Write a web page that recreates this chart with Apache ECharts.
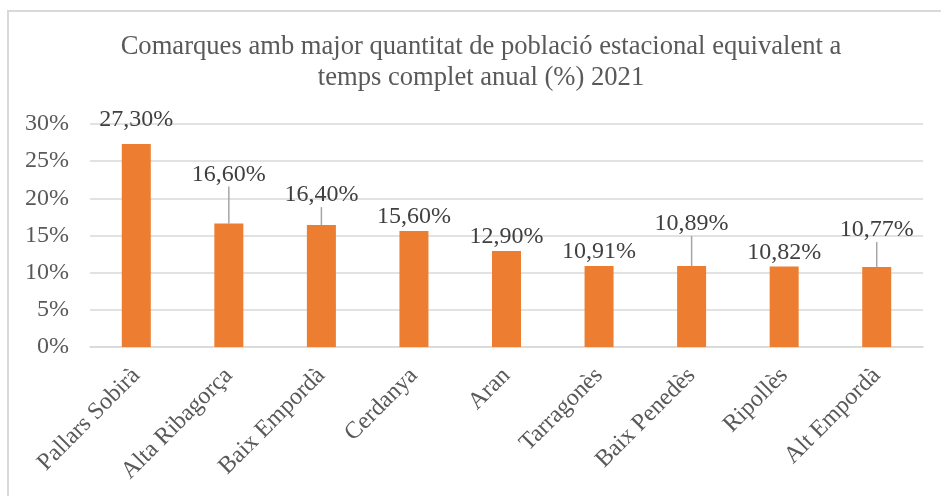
<!DOCTYPE html>
<html>
<head>
<meta charset="utf-8">
<script src="https://cdn.jsdelivr.net/npm/echarts@6/dist/echarts.min.js"></script>
<style>
  html, body { margin: 0; padding: 0; background: #fff; }
  #frame { position: absolute; left: 7px; top: 10px; width: 960px; height: 520px;
           border-left: 2px solid #d9d9d9; border-top: 2px solid #d9d9d9; box-sizing: border-box; }
  #chart { position: absolute; left: 0; top: 0; width: 941px; height: 496px; }
</style>
</head>
<body>
<div id="frame"></div>
<div id="chart"></div>
<script>
const titleText = 'Comarques amb major quantitat de població estacional equivalent a\ntemps complet anual (%) 2021';
const categories = ['Pallars Sobirà', 'Alta Ribagorça', 'Baix Empordà', 'Cerdanya', 'Aran', 'Tarragonès', 'Baix Penedès', 'Ripollès', 'Alt Empordà'];
const values = [27.30, 16.60, 16.40, 15.60, 12.90, 10.91, 10.89, 10.82, 10.77];
const yTicks = [0, 5, 10, 15, 20, 25, 30];

const FONT = '"Liberation Serif", "Times New Roman", serif';
// label vertical shifts and leader lines (styling only)
const labelShift = {0: -10, 1: -35, 2: -16, 6: -28, 8: -23};
const withLeader = {1: true, 2: true, 6: true, 8: true};

const chart = echarts.init(document.getElementById('chart'), null, {renderer: 'canvas'});
chart.setOption({
  backgroundColor: 'transparent',
  animation: false,
  title: {
    text: titleText,
    left: 476,
    textAlign: 'center',
    top: 27,
    textStyle: { fontFamily: FONT, fontSize: 26.6, fontWeight: 'normal', color: '#595959', lineHeight: 31 }
  },
  grid: { left: 90, right: 18, top: 124, bottom: 149, containLabel: false },
  xAxis: {
    type: 'category',
    data: categories,
    axisLine: { show: true, lineStyle: { color: '#d9d9d9', width: 1.5 } },
    axisTick: { show: false },
    axisLabel: { rotate: 45, margin: 25, interval: 0, fontFamily: FONT, fontSize: 24, color: '#595959' }
  },
  yAxis: {
    type: 'value',
    min: yTicks[0],
    max: yTicks[yTicks.length - 1],
    interval: yTicks[1] - yTicks[0],
    axisLine: { show: false },
    axisTick: { show: false },
    splitLine: { lineStyle: { color: '#d9d9d9', width: 1.5 } },
    axisLabel: { margin: 21, padding: [6, 0, 0, 0], fontFamily: FONT, fontSize: 24, color: '#595959', formatter: v => v + '%' }
  },
  series: [{
    type: 'bar',
    data: values.map((v, i) => ({ value: v, labelLine: { show: !!withLeader[i] } })),
    barWidth: 29,
    itemStyle: { color: '#ed7d31' },
    label: {
      show: true,
      position: 'top',
      distance: 2,
      fontFamily: FONT,
      fontSize: 24,
      color: '#404040',
      formatter: p => p.value.toFixed(2).replace('.', ',') + '%'
    },
    labelLine: { show: true, lineStyle: { color: '#a6a6a6', width: 1.5 } },
    labelLayout: p => (labelShift[p.dataIndex] ? { dy: labelShift[p.dataIndex] } : {})
  }]
});
</script>
</body>
</html>
